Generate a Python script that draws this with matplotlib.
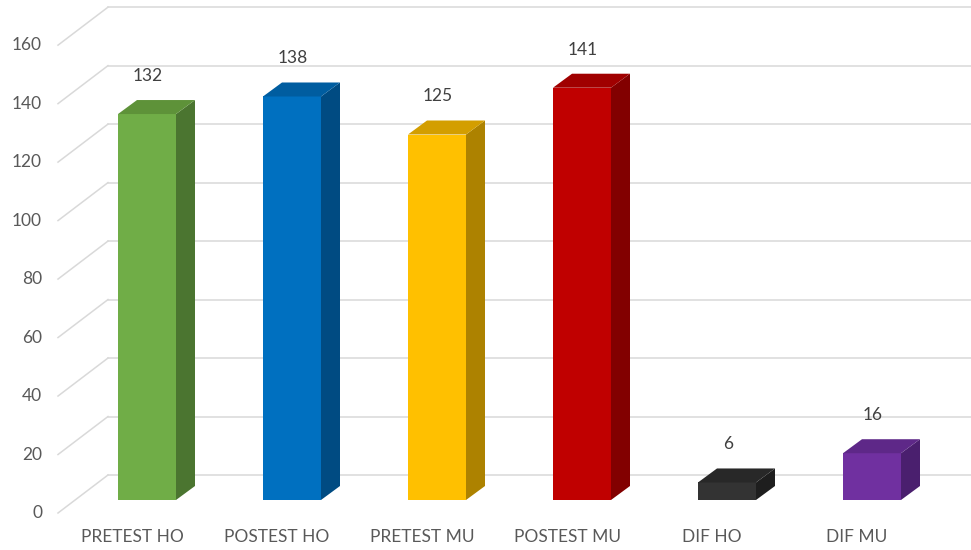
import numpy as np
import matplotlib.pyplot as plt
from matplotlib.patches import Polygon

plt.rcParams['font.family'] = ['Lato', 'DejaVu Sans']

# data
categories = ['PRETEST HO', 'POSTEST HO', 'PRETEST MU', 'POSTEST MU', 'DIF HO', 'DIF MU']
values = [132, 138, 125, 141, 6, 16]
front_colors = ['#70AD47', '#0070C0', '#FFC000', '#C00000', '#333333', '#7030A0']
side_colors = ['#4B7530', '#004B82', '#AD8200', '#820000', '#1E1E1E', '#4A1F6E']
top_colors = ['#5E9239', '#005DA0', '#D39E00', '#A00000', '#282828', '#5E2888']
yticks = np.arange(0, 161, 20)

# scale: one category = 145 px, one value unit = 2.924 px
PX_X = 145.0
PX_Y = 2.924
W, H = 971, 550

fig = plt.figure(figsize=(W / 100, H / 100), dpi=100)
ax = fig.add_axes([0, 0, 1, 1])
ax.set_xlim(-147 / PX_X, (W - 147) / PX_X)
ax.set_ylim(-(H - 500) / PX_Y, 500 / PX_Y)
ax.axis('off')

x = np.arange(len(categories))
bw = 58 / PX_X
ddx, ddy = 19 / PX_X, 14 / PX_Y

# gridlines: back wall and left floor diagonals
grid_c = '#D9D9D9'
for v in yticks:
    yb = v + 25 / PX_Y
    yf = v - 13 / PX_Y
    ax.plot([-39 / PX_X, (W - 147) / PX_X], [yb, yb], color=grid_c, lw=1.1, zorder=1)
    ax.plot([-89 / PX_X, -39 / PX_X], [yf, yb], color=grid_c, lw=1.1, zorder=1)
    ax.text(-105 / PX_X, yf, str(v), ha='right', va='center', fontsize=12.5, color='#595959')

# bars with fake 3d depth
ax.bar(x, values, width=bw, color=front_colors, zorder=3)
for i, v in enumerate(values):
    l, r = x[i] - bw / 2, x[i] + bw / 2
    side = Polygon([[r, 0], [r + ddx, ddy], [r + ddx, v + ddy], [r, v]],
                   closed=True, color=side_colors[i], zorder=3, lw=0)
    top = Polygon([[l, v], [r, v], [r + ddx, v + ddy], [l + ddx, v + ddy]],
                  closed=True, color=top_colors[i], zorder=3, lw=0)
    ax.add_patch(side)
    ax.add_patch(top)
    ax.text(x[i] + 1 / PX_X, v + 38 / PX_Y, str(v), ha='center', va='center',
            fontsize=12.5, color='#404040')
    ax.text(x[i] - 15 / PX_X, -37 / PX_Y, categories[i], ha='center', va='center',
            fontsize=12.5, color='#595959')

fig.savefig('out.png', dpi=100, facecolor='white')
